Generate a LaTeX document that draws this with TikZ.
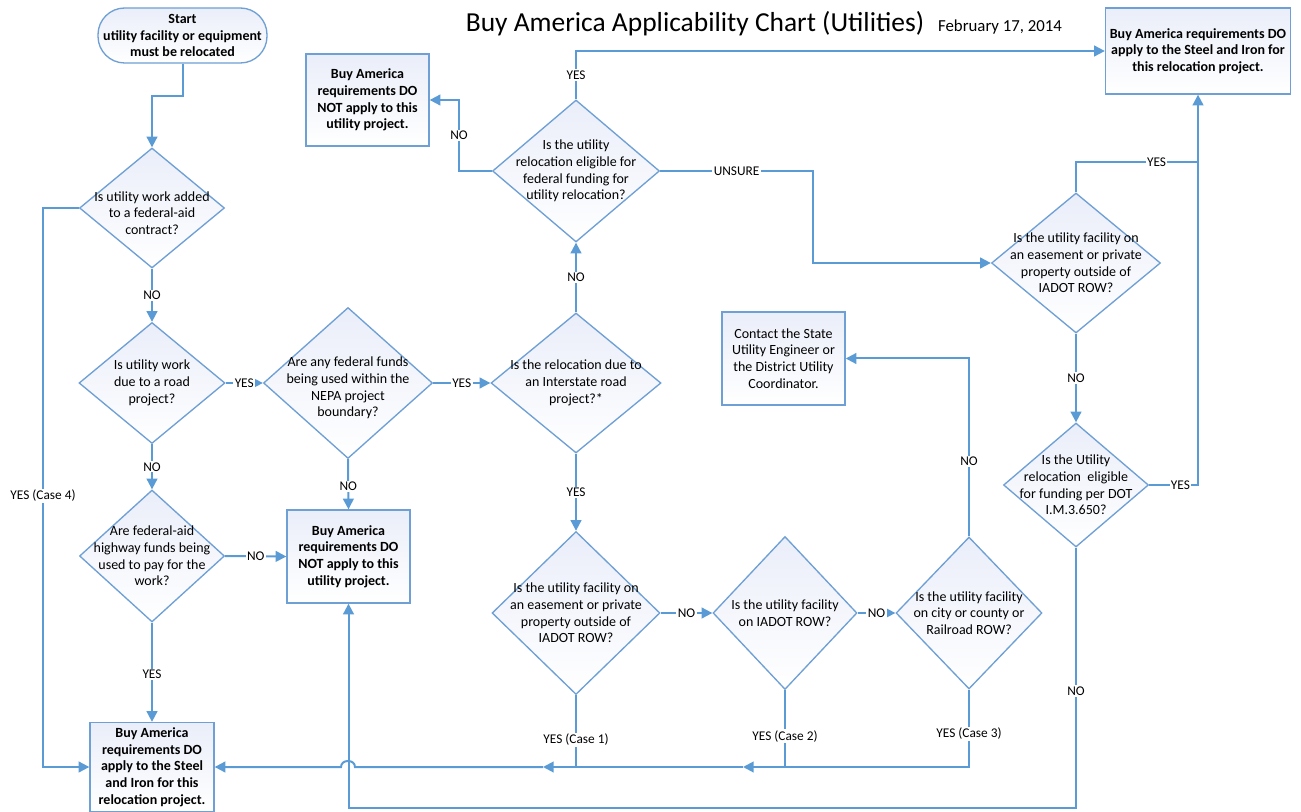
\documentclass[tikz,border=0pt]{standalone}
\usepackage{fontspec}
\setmainfont{Carlito}
\usetikzlibrary{shapes.geometric,arrows.meta}
\newdimen\px \px=0.75pt
\definecolor{connc}{HTML}{5B9BD5}
\definecolor{edgec}{HTML}{6E9FD5}
\definecolor{shadetop}{HTML}{EAEEF9}
\begin{document}
\begin{tikzpicture}[x=0.75pt,y=-0.75pt,
  conn/.style={draw=connc, line width=1.5pt},
  arr/.style={-{Triangle[length=8pt,width=8pt]}},
  dia/.style={diamond, draw=edgec, line width=1pt, top color=shadetop, bottom color=white, inner sep=0pt},
  dtxt/.style={align=center, font=\fontsize{10.5}{12.5}\selectfont, text=black, inner sep=0pt},
  box/.style={rectangle, draw=edgec, line width=1pt, top color=shadetop, bottom color=white, align=center, inner sep=1pt, font=\bfseries\fontsize{10.5}{12.5}\selectfont},
  lbl/.style={fill=white, inner sep=1pt, font=\fontsize{10}{12}\selectfont},
]
\useasboundingbox (0,0) rectangle (1301,812);

% title
\node[font=\fontsize{20.6}{24}\selectfont] (title) at (695,24) {Buy America Applicability Chart (Utilities)};
\node[font=\fontsize{12.6}{15}\selectfont] (date) at (1000,27) {February 17, 2014};

% start
\node[box, rounded corners=20pt, minimum width=169\px, minimum height=55\px] (st) at (182.5,35.5) {Start\\utility facility or equipment\\must be relocated};

% boxes
\node[box, minimum width=123\px, minimum height=92\px] (b0) at (367.5,100) {Buy America\\requirements DO\\NOT apply to this\\utility project.};
\node[box, minimum width=124\px, minimum height=89\px] (b1) at (152,767) {Buy America\\requirements DO\\apply to the Steel\\and Iron for this\\relocation project.};
\node[box, minimum width=123\px, minimum height=93\px] (b2) at (348.5,556.5) {Buy America\\requirements DO\\NOT apply to this\\utility project.};
\node[box, minimum width=185\px, minimum height=86\px] (b3) at (1198,51) {Buy America requirements DO\\apply to the Steel and Iron for\\this relocation project.};
\node[box, font=\fontsize{10.5}{12.5}\selectfont, minimum width=123\px, minimum height=93\px] (bc) at (783.5,358.5) {Contact the State\\Utility Engineer or\\the District Utility\\Coordinator.};

% diamonds
\node[dia, minimum width=145\px, minimum height=120\px] (d1) at (152,208) {};
\node[dtxt] (t1) at ([yshift=-5\px]d1.center) {Is utility work added\\to a federal-aid\\contract?};
\node[dia, minimum width=146\px, minimum height=121\px] (d2) at (152,383) {};
\node[dtxt] (t2) at (d2) {Is utility work\\due to a road\\project?};
\node[dia, minimum width=169\px, minimum height=151\px] (d3) at (348,383) {};
\node[dtxt] (t3) at ([yshift=-5\px]d3.center) {Are any federal funds\\being used within the\\NEPA project\\boundary?};
\node[dia, minimum width=170\px, minimum height=140\px] (d4) at (576,383) {};
\node[dtxt] (t4) at (d4) {Is the relocation due to\\an Interstate road\\project?*};
\node[dia, minimum width=145\px, minimum height=132\px] (d5) at (152,556) {};
\node[dtxt] (t5) at (d5) {Are federal-aid\\highway funds being\\used to pay for the\\work?};
\node[dia, minimum width=167\px, minimum height=142\px] (d6) at (576,171) {};
\node[dtxt] (t6) at (d6) {Is the utility\\relocation eligible for\\federal funding for\\utility relocation?};
\node[dia, minimum width=169\px, minimum height=140\px] (d7) at (1076,263) {};
\node[dtxt] (t7) at (d7) {Is the utility facility on\\an easement or private\\property outside of\\IADOT ROW?};
\node[dia, minimum width=168\px, minimum height=163\px] (d8) at (576,613) {};
\node[dtxt] (t8) at (d8) {Is the utility facility on\\an easement or private\\property outside of\\IADOT ROW?};
\node[dia, minimum width=144\px, minimum height=153\px] (d9) at (785,613) {};
\node[dtxt] (t9) at (d9) {Is the utility facility\\on IADOT ROW?};
\node[dia, minimum width=146\px, minimum height=152\px] (d10) at (969,613) {};
\node[dtxt] (t10) at (d10) {Is the utility facility\\on city or county or\\Railroad ROW?};
\node[dia, minimum width=145\px, minimum height=124\px] (d11) at (1076,485) {};
\node[dtxt] (t11) at (d11) {Is the Utility\\relocation\ \ eligible\\for funding per DOT\\I.M.3.650?};

% coordinates
\coordinate (c1) at (43,208);
\coordinate (c2) at (43,767);
\coordinate (c6) at (459,171);
\coordinate (cu) at (813,171);
\coordinate (j7) at (1198,162);
\coordinate (c11) at (1076,808);
\coordinate (a2) at (743,767);
\coordinate (a1) at (543,767);
\coordinate (h1) at (355,767);
\coordinate (h2) at (341,767);

% connectors
\draw[conn,arr] (st.south) -- ++(0,32) -| (d1.north);
\draw[conn,arr] (d1.west) -- (c1) -- node[lbl,pos=0.515]{YES (Case 4)} (c2) -- (b1.west);
\draw[conn,arr] (d1.south) -- node[lbl]{NO} (d2.north);
\draw[conn,arr] (d2.east) -- node[lbl]{YES} (d3.west);
\draw[conn,arr] (d2.south) -- node[lbl]{NO} (d5.north);
\draw[conn,arr] (d5.east) -- node[lbl]{NO} (b2.west);
\draw[conn,arr] (d5.south) -- node[lbl,pos=0.52]{YES} (b1.north);
\draw[conn,arr] (d3.south) -- node[lbl,pos=0.54]{NO} (b2.north);
\draw[conn,arr] (d3.east) -- node[lbl]{YES} (d4.west);
\draw[conn,arr] (d4.north) -- node[lbl]{NO} (d6.south);
\draw[conn,arr] (d6.west) -- (c6) |- node[lbl,pos=0.25]{NO} (b0.east);
\draw[conn,arr] (d6.north) |- node[lbl,pos=0.25]{YES} (b3.west);
\draw[conn,arr] (d6.east) -- node[lbl]{UNSURE} (cu) |- (d7.west);
\draw[conn,arr] (d4.south) -- node[lbl]{YES} (d8.north);
\draw[conn,arr] (d8.east) -- node[lbl]{NO} (d9.west);
\draw[conn,arr] (d9.east) -- node[lbl]{NO} (d10.west);
\draw[conn,arr] (d10.north) |- node[lbl,pos=0.21]{NO} (bc.east);
\draw[conn,arr] (d7.south) -- node[lbl]{NO} (d11.north);
\draw[conn,arr] (d11.east) -| node[lbl,pos=0.32]{YES} (b3.south);
\draw[conn] (d7.north) |- node[lbl,pos=0.83]{YES} (j7);
\draw[conn,arr] (d11.south) -- node[lbl,pos=0.55]{NO} (c11) -| (b2.south);
\draw[conn,arr] (d10.south) |- node[lbl,pos=0.285]{YES (Case 3)} (a2);
\draw[conn] (d9.south) -- node[lbl,pos=0.6]{YES (Case 2)} (d9.south |- a2);
\draw[conn,arr] (a2) -- (a1);
\draw[conn] (d8.south) -- node[lbl,pos=0.62]{YES (Case 1)} (d8.south |- a1);
\draw[conn,arr] (a1) -- (h1) .. controls (355,759) and (341,759) .. (h2) -- (b1.east);
\end{tikzpicture}
\end{document}
